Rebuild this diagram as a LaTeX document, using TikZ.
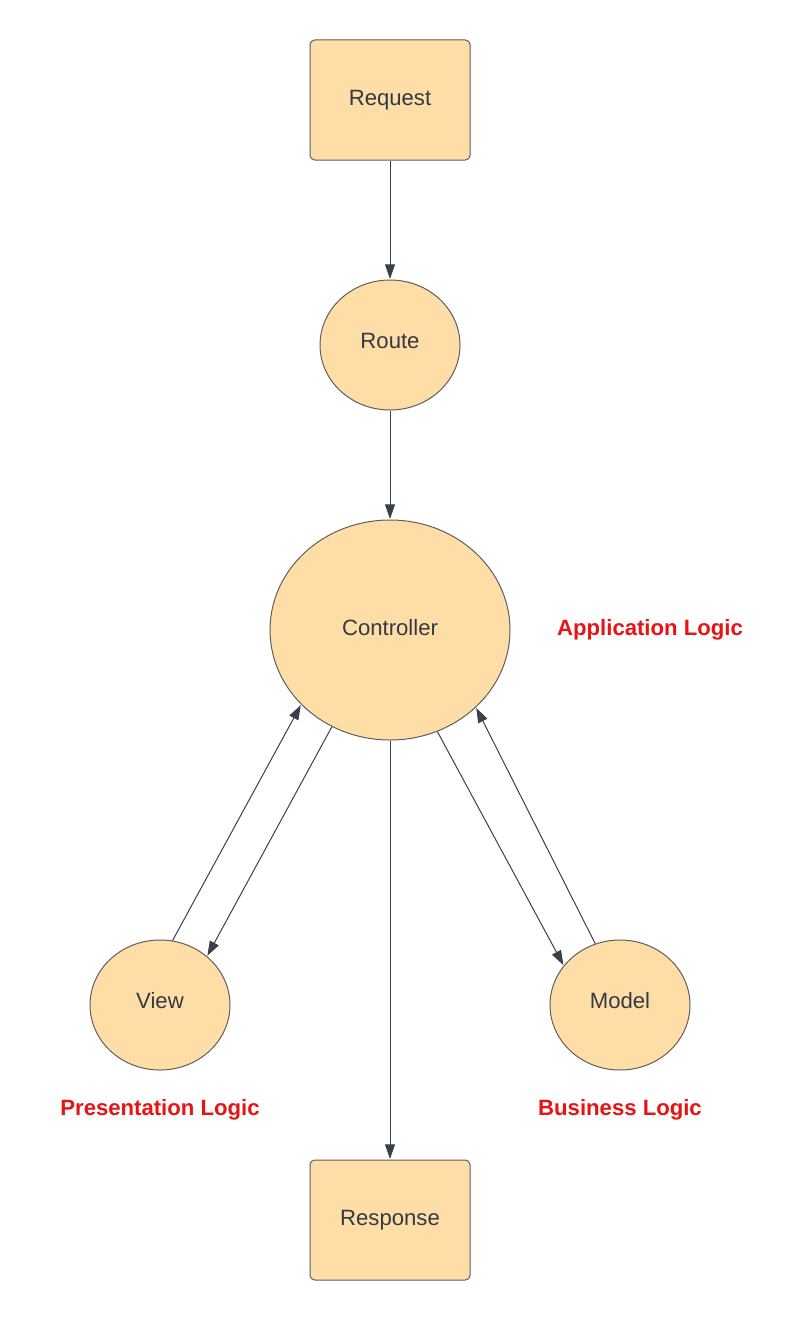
\documentclass[tikz,border=0pt]{standalone}
\usepackage{fontspec}
\setmainfont{Liberation Sans}
\usetikzlibrary{shapes.geometric,arrows.meta}
\definecolor{boxfill}{HTML}{FFDDA6}
\definecolor{boxline}{HTML}{5E5E5E}
\definecolor{arrowcol}{HTML}{3A414A}
\definecolor{txtcol}{HTML}{333A45}
\definecolor{lblred}{HTML}{E81313}
\tikzset{
  px/.style={x=0.75pt,y=-0.75pt},
  mainfont/.style={font=\fontsize{16.6}{20}\selectfont},
  boxnode/.style={draw=boxline,fill=boxfill,line width=0.75pt,rounded corners=3.5pt,
    minimum width=120pt,minimum height=90pt,inner sep=0pt,text=txtcol,mainfont},
  circtext/.style 2 args={label={[text=txtcol,mainfont,yshift=#2,inner sep=0pt]center:#1}},
  smallcirc/.style={ellipse,draw=boxline,fill=boxfill,line width=0.75pt,
    minimum width=105pt,minimum height=97.5pt,inner sep=0pt,circtext={#1}{3pt}},
  bigcirc/.style={ellipse,draw=boxline,fill=boxfill,line width=0.75pt,
    minimum width=180pt,minimum height=165pt,inner sep=0pt,circtext={#1}{1.5pt}},
  redlabel/.style={text=lblred,font=\fontsize{16.6}{20}\selectfont\bfseries,inner sep=0pt},
  conn/.style={draw=arrowcol,line width=0.75pt,
    -{Triangle[length=11pt,width=7.5pt,fill=arrowcol]},shorten >=0.4pt}
}
\begin{document}
\begin{tikzpicture}[px]
\useasboundingbox (0,0) rectangle (810,1320);
\node[boxnode] (request) at (390,100) {Request};
\node[smallcirc=Route] (route) at (390,345) {};
\node[bigcirc=Controller] (controller) at (390,630) {};
\node[smallcirc=View] (view) at (160,1005) {};
\node[smallcirc=Model] (model) at (620,1005) {};
\node[boxnode] (response) at (390,1220) {Response};
\node[redlabel] (applogic) at (650,630) {Application Logic};
\node[redlabel] (preslogic) at (160,1110) {Presentation Logic};
\node[redlabel] (buslogic) at (620,1110) {Business Logic};
\draw[conn] (request.south) -- (route.north);
\draw[conn] (route.south) -- (controller.north);
\draw[conn] (controller.south) -- (response.north);
\draw[conn] (view.79) -- (controller.220);
\draw[conn] (controller.239) -- (view.46);
\draw[conn] (controller.295) -- (model.145);
\draw[conn] (model.112) -- (controller.318);
\end{tikzpicture}
\end{document}
